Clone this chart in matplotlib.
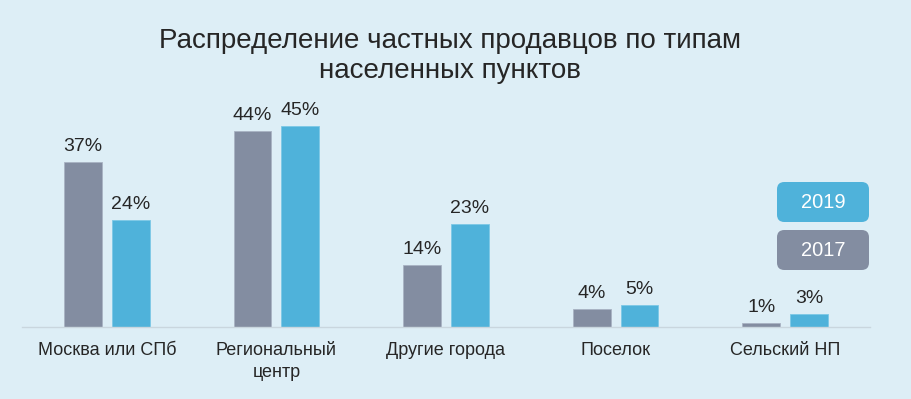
import matplotlib
matplotlib.use("Agg")
import matplotlib.pyplot as plt
from matplotlib.patches import FancyBboxPatch
import numpy as np

categories = ["Москва или СПб", "Региональный\nцентр", "Другие города", "Поселок", "Сельский НП"]
values_2017 = [37, 44, 14, 4, 1]
values_2019 = [24, 45, 23, 5, 3]
series_labels = ["2017", "2019"]
title = "Распределение частных продавцов по типам\nнаселенных пунктов"

BG = "#DDEEF6"
GRAY = "#838DA1"
BLUE = "#4FB2DA"
TEXT = "#262626"

plt.rcParams['font.family'] = ['Liberation Sans', 'DejaVu Sans']

fig = plt.figure(figsize=(9.12, 3.99), dpi=100, facecolor=BG)
ax = fig.add_axes([22/912, 72/399, 848/912, 223/399])
ax.set_facecolor(BG)

x = np.arange(len(categories))
w = 38/170
off = 24/170
b1 = ax.bar(x - off, values_2017, w, color=GRAY, edgecolor="#A9B3C3", linewidth=0.6)
b2 = ax.bar(x + off, values_2019, w, color=BLUE, edgecolor="#7CC8E6", linewidth=0.6)

for bars, vals in ((b1, values_2017), (b2, values_2019)):
    for r, v in zip(bars, vals):
        ax.annotate(f"{v}%", (r.get_x() + r.get_width()/2, v), xytext=(0, 5),
                    textcoords="offset points", ha="center", va="bottom",
                    fontsize=14, color=TEXT)

ax.set_xlim(-0.5, 4.5)
ax.set_ylim(0, 50)
ax.set_xticks(x)
ax.set_xticklabels(categories, fontsize=13, color=TEXT, linespacing=1.45)
ax.tick_params(axis="x", length=0, pad=10.5)
ax.set_yticks([])
for s in ("top", "right", "left"):
    ax.spines[s].set_visible(False)
ax.spines["bottom"].set_color("#C9D6DE")
ax.spines["bottom"].set_linewidth(1)

fig.text(450/912, 1 - 56/399, title, ha="center", va="center", fontsize=20,
         color=TEXT, linespacing=1.25)

# legend boxes
def legend_box(y_top, color, label):
    x0, x1 = 777, 869
    y0, y1 = 399 - y_top - 40, 399 - y_top
    p = FancyBboxPatch((x0/912, y0/399), (x1-x0)/912, (y1-y0)/399,
                       boxstyle="round,pad=0,rounding_size=0.008",
                       transform=fig.transFigure, facecolor=color,
                       edgecolor="none", mutation_aspect=912/399)
    fig.patches.append(p)
    fig.text((x0+x1)/2/912, (y0+y1)/2/399, label, ha="center", va="center",
             fontsize=14.5, color="white")

legend_box(182, BLUE, series_labels[1])
legend_box(230, GRAY, series_labels[0])

fig.savefig("out.png", dpi=100, facecolor=BG)
